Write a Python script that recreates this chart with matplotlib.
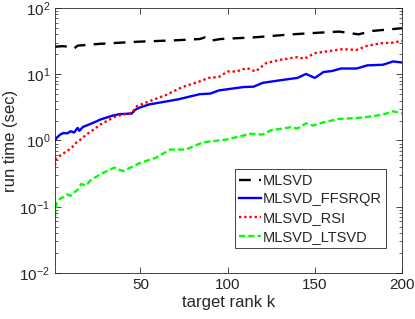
import matplotlib
matplotlib.use("Agg")
import matplotlib.pyplot as plt
import numpy as np

plt.rcParams['font.family'] = ['Liberation Sans', 'DejaVu Sans']
plt.rcParams['mathtext.fontset'] = 'custom'
plt.rcParams['mathtext.rm'] = 'Liberation Sans'
plt.rcParams['mathtext.it'] = 'Liberation Sans:italic'

# data
k_mlsvd = [1, 5, 10, 12, 14, 27, 49, 70, 84, 87, 90, 96, 115, 137, 150, 164, 175, 183, 200]
t_mlsvd = [26, 26.5, 26, 24.5, 27, 28.8, 31, 32.5, 34, 36, 32, 34, 36, 40, 42, 44, 40, 45, 49.5]

k_ffsrqr = [1, 2, 4, 6, 8, 10, 12, 14, 15, 17, 19, 23, 27, 34, 38, 45, 47, 49, 55, 64, 72, 84,
            90, 95, 109, 115, 120, 130, 140, 145, 150, 155, 160, 165, 174, 180, 189, 195, 200]
t_ffsrqr = [1.0, 1.1, 1.23, 1.3, 1.28, 1.38, 1.32, 1.55, 1.4, 1.6, 1.68, 1.85, 2.07, 2.37, 2.5, 2.55,
            2.9, 3.1, 3.5, 3.85, 4.2, 5.0, 5.1, 5.7, 6.4, 6.5, 7.4, 8.1, 8.8, 10.1, 8.8, 10.8, 11.2,
            12.2, 12.2, 13.6, 13.9, 15.6, 15.0]

k_rsi = [1, 2, 5, 8, 11, 13, 16, 19, 23, 27, 32, 36, 41, 45, 48, 55, 65, 74, 84, 89,
         95, 100, 105, 111, 116, 122, 130, 140, 144, 150, 159, 166, 174, 180, 188, 195, 200]
t_rsi = [0.42, 0.54, 0.62, 0.69, 0.8, 0.92, 1.05, 1.23, 1.45, 1.74, 2.05, 2.32, 2.5, 2.6, 3.3,
         3.9, 4.9, 6.4, 7.8, 8.8, 9.1, 11, 11, 12.4, 11, 14.7, 16.5, 18.1, 17.1, 20.8, 22.5,
         23.9, 23.3, 26.8, 29.4, 30, 32]

k_ltsvd = [1, 2, 4, 6, 8, 10, 12, 14, 16, 19, 21, 27, 35, 40, 50, 59, 67, 76, 86, 92, 99,
           113, 120, 125, 136, 140, 145, 149, 155, 164, 175, 183, 189, 195, 200]
t_ltsvd = [0.069, 0.116, 0.133, 0.14, 0.154, 0.146, 0.165, 0.18, 0.22, 0.21, 0.245, 0.31, 0.39,
           0.345, 0.46, 0.55, 0.73, 0.73, 0.94, 0.98, 1.03, 1.26, 1.23, 1.43, 1.58, 1.52, 1.82,
           1.68, 1.88, 2.12, 2.19, 2.32, 2.46, 2.76, 2.55]

labels = ['MLSVD', 'MLSVD_FFSRQR', 'MLSVD_RSI', 'MLSVD_LTSVD']

fig = plt.figure(figsize=(4.15, 3.19), dpi=100)
ax = fig.add_axes([0.1325, 0.1442, 0.8362, 0.8308])

lw = 1.7
ax.plot(k_mlsvd, t_mlsvd, color='black', lw=lw, dashes=(5, 3.5), label=labels[0])
ax.plot(k_ffsrqr, t_ffsrqr, color='#0000ff', lw=lw, label=labels[1])
ax.plot(k_rsi, t_rsi, color='#ff0000', lw=lw, linestyle=(0, (1, 1.2)), label=labels[2])
ax.plot(k_ltsvd, t_ltsvd, color='#00ff00', lw=lw, linestyle=(0, (2.6, 1.3)), label=labels[3])

ax.set_yscale('log')
ax.set_xlim(1, 200)
ax.set_ylim(1e-2, 1e2)
ax.set_xticks([50, 100, 150, 200])
ax.set_yticks([1e-2, 1e-1, 1e0, 1e1, 1e2])

tc = '#262626'
ax.tick_params(which='both', direction='in', top=True, right=True, colors=tc, labelsize=11)
ax.tick_params(which='major', length=4, width=0.6)
ax.tick_params(which='minor', length=2.5, width=0.5)
for s in ax.spines.values():
    s.set_color(tc)
    s.set_linewidth(0.6)

ax.set_xlabel('target rank k', fontsize=12, color=tc, labelpad=2)
ax.set_ylabel('run time (sec)', fontsize=12, color=tc, labelpad=1)

leg = ax.legend(loc='lower right', bbox_to_anchor=(0.955, 0.094), fontsize=10.5,
                handlelength=1.5, handletextpad=0.12, borderpad=0.3, labelspacing=0.32,
                borderaxespad=0, fancybox=False, framealpha=1, edgecolor=tc)
leg.get_frame().set_linewidth(0.6)
for t in leg.get_texts():
    t.set_color(tc)

fig.savefig('out.png', dpi=100)
